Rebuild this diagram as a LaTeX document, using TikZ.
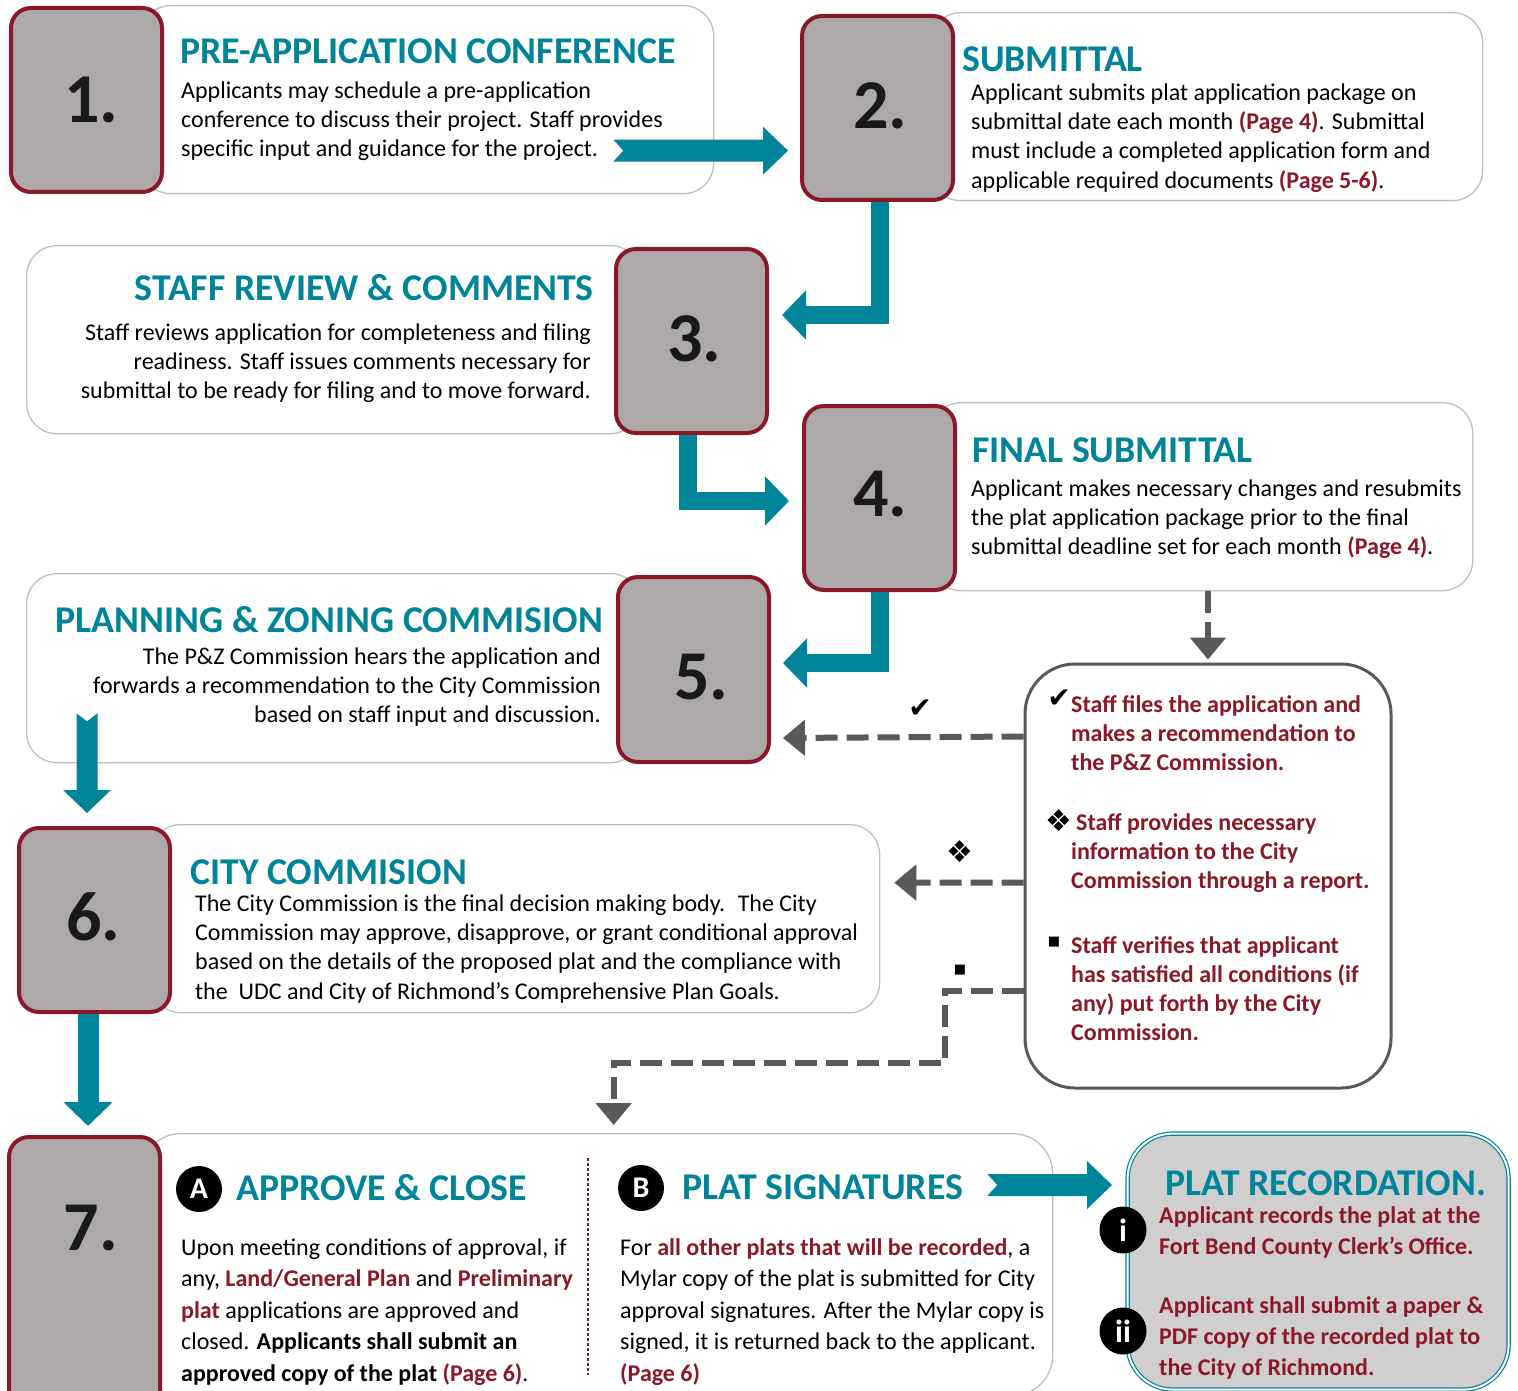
\documentclass[tikz,border=0pt]{standalone}
\usepackage{fontspec}
\setmainfont{Carlito}
\newfontfamily\symfont{DejaVu Sans}
\usetikzlibrary{arrows.meta,calc}
\definecolor{tealc}{RGB}{0,132,154}
\definecolor{dred}{RGB}{139,24,40}
\definecolor{sqgray}{RGB}{173,169,168}
\definecolor{recgray}{RGB}{208,206,206}
\definecolor{dgray}{RGB}{89,89,89}
\definecolor{lgray}{RGB}{191,191,191}
\newcommand\rb[1]{\textcolor{dred}{\textbf{#1}}}
\newcommand\fs{\rule{0pt}{20pt}}
\newcommand\notchR[2]{\fill[tealc] let \p1=(#1), \p2=(#2) in
  (\x1,\y1+11pt) -- (\x2-25pt,\y1+11pt) -- (\x2-25pt,\y1+24pt) -- (\x2,\y1)
  -- (\x2-25pt,\y1-24pt) -- (\x2-25pt,\y1-11pt) -- (\x1,\y1-11pt) -- (\x1+10pt,\y1) -- cycle;}
\newcommand\notchD[2]{\fill[tealc] let \p1=(#1), \p2=(#2) in
  (\x1-10.5pt,\y1) -- (\x1-10.5pt,\y2+23pt) -- (\x1-24pt,\y2+23pt) -- (\x1,\y2)
  -- (\x1+24pt,\y2+23pt) -- (\x1+10.5pt,\y2+23pt) -- (\x1+10.5pt,\y1) -- (\x1,\y1-8pt) -- cycle;}
\begin{document}
\begin{tikzpicture}[x=1pt,y=-1pt,
  textbox/.style={draw=lgray, line width=1.3pt, rounded corners=30pt, fill=white, anchor=north west, inner sep=0pt},
  numsq/.style={draw=dred, line width=4pt, rounded corners=20pt, fill=sqgray, anchor=north west, inner sep=0pt,
    minimum width=151pt, minimum height=184pt},
  numtxt/.style={inner sep=0pt, font=\fontsize{70}{70}\selectfont\bfseries, text=black!90},
  ttl/.style={anchor=base west, inner sep=0pt, text=tealc, font=\fontsize{37.8}{37.8}\selectfont\bfseries},
  ttlr/.style={ttl, anchor=base east},
  body/.style={anchor=north west, inner sep=0pt, align=left, font=\fontsize{24}{29.3}\selectfont},
  bodyr/.style={body, anchor=north east, align=right},
  bodyw/.style={body, font=\fontsize{24}{31.5}\selectfont},
  redtxt/.style={body, text=dred, font=\fontsize{24}{29.2}\selectfont\bfseries},
  rectxt/.style={body, text=dred, font=\fontsize{24}{31}\selectfont\bfseries},
  bent/.style={draw=tealc, line width=18.5pt, -{Triangle[length=24pt,width=48pt]}},
  dsh/.style={draw=dgray, line width=6pt, dash pattern=on 22pt off 9pt, -{Triangle[length=22pt,width=35pt]}},
  badge/.style={circle, fill=black, text=white, minimum size=46pt, inner sep=0pt, font=\fontsize{30}{30}\selectfont\bfseries},
  symb/.style={inner sep=0pt, font=\symfont\fontsize{28}{28}\selectfont},
  symd/.style={inner sep=0pt, font=\symfont\fontsize{30}{30}\selectfont},
  syms/.style={inner sep=0pt, font=\symfont\fontsize{13}{13}\selectfont}
]
\useasboundingbox (0,0) rectangle (1518,1391);
\fill[white] (0,0) rectangle (1518,1391);

% text boxes
\node[textbox, minimum width=573pt, minimum height=188pt] (t1) at (140,5) {};
\node[textbox, minimum width=552pt, minimum height=188pt] (t2) at (930,12) {};
\node[textbox, minimum width=614pt, minimum height=188pt] (t3) at (26,245) {};
\node[textbox, minimum width=542pt, minimum height=188pt] (t4) at (930,402) {};
\node[textbox, minimum width=614pt, minimum height=189pt] (t5) at (26,573) {};
\node[textbox, minimum width=729pt, minimum height=188pt] (t6) at (150,824) {};
\node[textbox, minimum width=912pt, minimum height=262pt, rounded corners=40pt] (t7) at (140,1133) {};
\node[anchor=north west, inner sep=0pt, minimum width=381pt, minimum height=256pt, rounded corners=45pt,
  fill=recgray, draw=tealc, line width=1.2pt, double=white, double distance=2pt] (rec) at (1127,1133) {};
\node[anchor=north west, draw=dgray, line width=3pt, rounded corners=50pt, fill=white,
  minimum width=366pt, minimum height=424pt, inner sep=0pt] (staff) at (1023.5,662.5) {};

% number squares
\node[numsq] (s1) at (9,6) {};
\node[numsq] (s2) at (800,14) {};
\node[numsq] (s3) at (614,247) {};
\node[numsq] (s4) at (802,404) {};
\node[numsq, minimum height=185pt] (s5) at (616,575) {};
\node[numsq] (s6) at (17,826) {};
\node[numsq, minimum height=300pt] (s7) at (7,1135) {};
\node[numtxt] (n1) at ($(s1.center)+(5,0)$) {1.};
\node[numtxt] (n2) at ($(s2.center)+(3,-2)$) {2.};
\node[numtxt] (n3) at ($(s3.center)+(3,-2)$) {3.};
\node[numtxt] (n4) at ($(s4.center)+(1,-4)$) {4.};
\node[numtxt] (n5) at ($(s5.center)+(8,8)$) {5.};
\node[numtxt] (n6) at ($(s6.center)+(-1,-3)$) {6.};
\node[numtxt] (n7) at (91,1228) {7.};

% titles
\node[ttl] (ti1) at (180,64) {PRE-APPLICATION CONFERENCE};
\node[ttl] (ti2) at (962,72) {SUBMITTAL};
\node[ttlr] (ti3) at (594,300) {STAFF REVIEW \& COMMENTS};
\node[ttl] (ti4) at (972,462) {FINAL SUBMITTAL};
\node[ttlr] (ti5) at (603,632) {PLANNING \& ZONING COMMISION};
\node[ttl] (ti6) at (190,884) {CITY COMMISION};
\node[ttl] (ti7a) at (236,1200) {APPROVE \& CLOSE};
\node[ttl] (ti7b) at (682,1199) {PLAT SIGNATURES};
\node[ttl] (ti8) at (1165,1195) {PLAT RECORDATION.};

% body texts
\node[body] (b1) at (181,78) {\fs Applicants may schedule a pre-application\\conference to discuss their project. Staff provides\\specific input and guidance for the project.};
\node[body] (b2) at (971,80) {\fs Applicant submits plat application package on\\submittal date each month \rb{(Page 4)}. Submittal\\must include a completed application form and\\applicable required documents \rb{(Page 5-6)}.};
\node[bodyr] (b3) at (591,320) {\fs Staff reviews application for completeness and filing\\readiness. Staff issues comments necessary for\\submittal to be ready for filing and to move forward.};
\node[body] (b4) at (971,476) {\fs Applicant makes necessary changes and resubmits\\the plat application package prior to the final\\submittal deadline set for each month \rb{(Page 4)}.};
\node[bodyr] (b5) at (601,644) {\fs The P\&Z Commission hears the application and\\forwards a recommendation to the City Commission\\based on staff input and discussion.};
\node[body] (b6) at (195,891) {\fs The City Commission is the final decision making body.~ The City\\Commission may approve, disapprove, or grant conditional approval\\based on the details of the proposed plat and the compliance with\\the~ UDC and City of Richmond’s Comprehensive Plan Goals.};
\node[bodyw] (b7a) at (181,1235) {\fs Upon meeting conditions of approval, if\\any, \rb{Land/General Plan} and \rb{Preliminary}\\\rb{plat} applications are approved and\\closed. \textbf{Applicants shall submit an}\\\textbf{approved copy of the plat} \rb{(Page 6)}.};
\node[bodyw] (b7b) at (620,1235) {\fs For \rb{all other plats that will be recorded}, a\\Mylar copy of the plat is submitted for City\\approval signatures. After the Mylar copy is\\signed, it is returned back to the applicant.\\\rb{(Page 6)}};
\node[rectxt] (r1) at (1159,1203) {\fs Applicant records the plat at the\\Fort Bend County Clerk’s Office.};
\node[rectxt] (r2) at (1159,1293) {\fs Applicant shall submit a paper \&\\PDF copy of the recorded plat to\\the City of Richmond.};
\node[redtxt] (st1) at (1071,692) {\fs Staff files the application and\\makes a recommendation to\\the P\&Z Commission.};
\node[redtxt] (st2) at (1071,810) {\fs\hspace{5pt}Staff provides necessary\\information to the City\\Commission through a report.};
\node[redtxt] (st3) at (1071,933) {\fs Staff verifies that applicant\\has satisfied all conditions (if\\any) put forth by the City\\Commission.};

% bullets in staff box
\node[symb] (k1) at (1059,699) {✔};
\node[symd] (k2) at (1059,821) {❖};
\node[syms] (k3) at (1054,942) {■};

% badges
\node[badge] (ca) at (199,1189) {A};
\node[badge] (cb) at (641,1188) {B};
\node[badge, minimum size=47pt, font=\fontsize{32}{32}\selectfont\bfseries] (ci) at (1123,1230) {i};
\node[badge, minimum size=47pt, font=\fontsize{32}{32}\selectfont\bfseries] (cii) at (1123,1331) {ii};

% divider in box 7
\draw[dred, line width=2.5pt, dash pattern=on 2.5pt off 2.5pt] ($(t7.north west)+(448,25)$) -- ($(t7.north west)+(448,242)$);

% teal connectors
\coordinate (a12s) at ($(t1.east)+(-101,51)$);
\coordinate (a12e) at ($(s2.west)+(-12,44)$);
\notchR{a12s}{a12e}
\draw[bent] ($(s2.south)+(2.5,0)$) |- ($(s3.east)+(13,-26)$);
\draw[bent] ($(s3.south)+(-3.5,0)$) |- ($(s4.west)+(-13,3)$);
\draw[bent] ($(s4.south)+(0.5,0)$) |- ($(s5.east)+(12,-6.5)$);
\coordinate (a56s) at ($(t5.south west)+(61,-50)$);
\coordinate (a56e) at ($(s6.north)+(-5.5,-13)$);
\notchD{a56s}{a56e}
\draw[bent, line width=21pt] ($(s6.south)+(-6.5,0)$) -- ($(s7.north)+(3.5,-9)$);
\coordinate (abrs) at ($(t7.north east)+(-66,52)$);
\coordinate (abre) at ($(rec.north west)+(-15,52)$);
\notchR{abrs}{abre}

% grey dashed connectors
\draw[dsh] (t4.south -| staff.north) -- ($(staff.north)+(0,-3)$);
\draw[dsh] ($(staff.north west)+(0,74)$) -- ($(s5.east)+(12,68.5)$);
\draw[dsh] ($(staff.north west)+(0,220)$) -- ($(t6.east)+(14,-36)$);
\draw[dsh] ($(staff.north west)+(0,328)$) -- ++(-79,0) -- ++(0,72) -| ($(t7.north)+(17,-8)$);
\node[symb] (m1) at (920,709) {✔};
\node[symd] (m2) at (960,852) {❖};
\node[syms] (m3) at (960,970) {■};
\end{tikzpicture}
\end{document}
